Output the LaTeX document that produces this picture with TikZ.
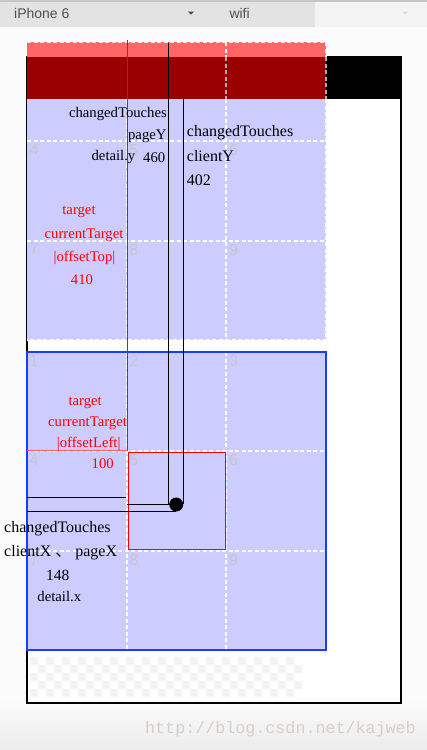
\documentclass[tikz,border=0pt]{standalone}
\usepackage{fontspec}
\setmainfont{Liberation Serif}
\newfontfamily\cjkfont{Noto Sans CJK SC}
\newfontfamily\uifont{Liberation Sans}
\newfontfamily\markfont{Liberation Mono}
\usetikzlibrary{positioning}
\definecolor{lavender}{HTML}{CCCCFF}
\definecolor{pinkbar}{HTML}{FF6666}
\definecolor{darkbar}{HTML}{990000}
\definecolor{bluebox}{HTML}{1A3CFF}
\definecolor{numgray}{HTML}{C6C6CE}
\definecolor{hdrgray}{HTML}{E3E3E3}
\definecolor{hdrlight}{HTML}{F4F4F4}
\definecolor{hdrtext}{HTML}{505050}
\definecolor{pagebg}{HTML}{FBFBFB}
\definecolor{checkgray}{HTML}{F3F3F3}
\definecolor{wmgray}{HTML}{D6D0C8}
\tikzstyle{smalltxt} = [inner sep=0pt, font=\fontsize{14.7}{17}\selectfont]
\tikzstyle{bigtxt} = [inner sep=0pt, font=\fontsize{16}{19}\selectfont]
\tikzstyle{redtxt} = [smalltxt, text=red, anchor=base]
\tikzstyle{cellnum} = [inner sep=0pt, anchor=north west, text=numgray, font=\uifont\fontsize{16}{19}\selectfont]
\tikzstyle{gridline} = [white, line width=2pt, dash pattern=on 4pt off 2.5pt]
\tikzstyle{hdrtxt} = [inner sep=0pt, anchor=base west, text=hdrtext, font=\uifont\fontsize{14}{16}\selectfont]

\begin{document}
\begin{tikzpicture}[x=1pt, y=-1pt]
        \useasboundingbox (0,0) rectangle (427,750);
        % page background and header bar
        \fill[pagebg] (0,0) rectangle (427,700);
        \shade[top color=pagebg, bottom color=gray!15] (0,700) rectangle (427,750);
        \fill[hdrgray] (0,0) rectangle (315,26.7);
        \fill[hdrlight] (315,0) rectangle (427,26.7);
        \fill[gray!45] (0,0) rectangle (427,2);
        \node (device) [hdrtxt] at (14,18.3) {iPhone 6};
        \node (network) [hdrtxt] at (229.3,18.3) {wifi};
        \fill[hdrtext] (188,11.5) -- (194,11.5) -- (191,14.5) -- cycle;
        \fill[gray!30] (402,11.5) -- (408,11.5) -- (405,14.5) -- cycle;

        % screen frame and checker pattern
        \draw[fill=white, line width=1.3pt] (27,57) rectangle (401,703);
        \foreach \j in {0,...,4}
            \foreach \i in {0,2,...,32}
                \fill[checkgray] ({30+8*(\i+mod(\j,2))},{657+8*\j}) rectangle +(8,8);

        % upper box with grid
        \fill[lavender] (27,42) rectangle (326,340);
        \foreach \x in {126.7,226.3}
            \draw[gridline] (\x,99) -- (\x,340);
        \foreach \y in {141,240.7}
            \draw[gridline] (27,\y) -- (326,\y);
        \draw[gridline] (326,99) -- (326,340) -- (27,340);
        \node (u4) [cellnum] at (29.5,144) {4};
        \node (u5) [cellnum] at (129.2,144) {5};
        \node (u6) [cellnum] at (228.8,144) {6};
        \node (u7) [cellnum] at (29.5,243.7) {7};
        \node (u8) [cellnum] at (129.2,243.7) {8};
        \node (u9) [cellnum] at (228.8,243.7) {9};

        % bars on top
        \fill[pinkbar] (27,42) rectangle (326,57);
        \fill[darkbar] (27,57) rectangle (326,99);
        \fill (326,57) rectangle (401,99);
        \draw[gridline, line width=1pt, white!85!pinkbar] (27,42) -- (326,42);
        \foreach \x in {226.3,326} {
            \draw[gridline] (\x,42) -- (\x,57);
            \draw[gridline, gray!65] (\x,57) -- (\x,99);
        }

        % lower box with grid
        \fill[lavender] (27,352) rectangle (326,650);
        \foreach \x in {126.7,226.3}
            \draw[gridline] (\x,352) -- (\x,650);
        \foreach \y in {451.3,551}
            \draw[gridline] (27,\y) -- (326,\y);
        \foreach \n/\cx/\cy in {1/0/0,2/1/0,3/2/0,4/0/1,5/1/1,6/2/1,7/0/2,8/1/2,9/2/2}
            \node (l\n) [cellnum] at ({29.5+99.7*\cx},{355+99.5*\cy}) {\n};
        \draw[red, line width=1pt] (128.3,452.7) rectangle (225.3,549);
        \draw[bluebox, line width=1.2pt] (27,352) rectangle (326,650);

        % offset marks
        \draw[red, line width=1pt] (127.5,40) -- (127.5,450.5);
        \draw[red!65, line width=1.3pt] (27,450.5) -- (127.5,450.5);

        % finger
        \draw[line width=1pt] (168.3,42.5) -- (168.3,504);
        \draw[line width=1pt] (183.8,99) -- (183.8,504);
        \draw[line width=1pt] (27,497.7) -- (126,497.7);
        \draw[line width=1pt] (127,504) -- (176,504);
        \draw[line width=1pt] (27,511.2) -- (176,511.2);
        \fill (176.2,504.5) circle (7);

        % texts, upper part
        \node (ctouch1) [smalltxt, anchor=base east] at (167,117.3) {changedTouches};
        \node (pagey) [smalltxt, anchor=base east] at (166.7,139.3) {pageY};
        \node (detaily) [smalltxt, anchor=base east] at (135.5,160) {detail.y};
        \node (pagenum) [smalltxt, anchor=base west] at (143,162.5) {460};
        \node (ctouch2) [bigtxt, anchor=base west] at (186.7,136.7) {changedTouches};
        \node (clienty) [bigtxt, anchor=base west] at (186.7,161) {clientY};
        \node (clientnum) [bigtxt, anchor=base west] at (186.7,185) {402};
        \node (target1) [redtxt] at (79,214.3) {target};
        \node (current1) [redtxt] at (84,238.5) {currentTarget};
        \node (offtop) [redtxt] at (84.5,261.5) {|offsetTop|};
        \node (offtopnum) [redtxt] at (82,284) {410};

        % texts, lower part
        \node (target2) [redtxt] at (85.2,405.7) {target};
        \node (current2) [redtxt] at (87.5,426.7) {currentTarget};
        \node (offleft) [redtxt] at (88.7,447.3) {|offsetLeft|};
        \node (offleftnum) [redtxt] at (102.7,468.3) {100};
        \node (ctouch3) [bigtxt, anchor=base west] at (4,532.7) {changedTouches};
        \node (clientx) [bigtxt, anchor=base west] at (4,556.7) {clientX {\cjkfont 、} pageX};
        \node (xnum) [bigtxt, anchor=base west, font=\fontsize{15.5}{18}\selectfont] at (46,580.7) {148};
        \node (detailx) [smalltxt, anchor=base west] at (37.3,601.7) {detail.x};

        % watermark
        \node (watermark) [inner sep=0pt, anchor=base west, text=wmgray, font=\markfont\fontsize{16.7}{19}\selectfont] at (145,733.5) {http://blog.csdn.net/kajweb};
    \end{tikzpicture}
\end{document}
